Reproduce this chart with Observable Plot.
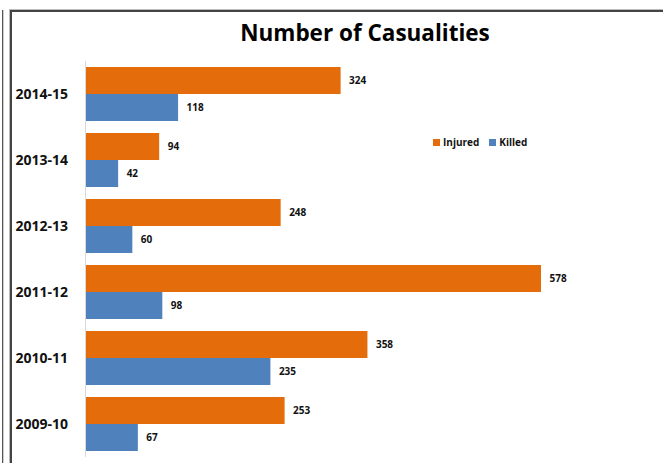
<!DOCTYPE html>
<html>
<head>
<meta charset="utf-8">
<script src="https://cdn.jsdelivr.net/npm/d3@7"></script>
<script src="https://cdn.jsdelivr.net/npm/@observablehq/plot@0.6"></script>
<style>
  html, body { margin: 0; padding: 0; background: #fff; }
  #wrap { position: relative; width: 663px; height: 463px; overflow: hidden; font-family: "Open Sans", "Noto Sans", sans-serif; }
  #edge1 { position: absolute; left: 2px; top: 10px; width: 0; height: 460px; border-left: 1px solid #555; box-shadow: 1px 0 0 #ccc; }
  #edge2 { position: absolute; left: 10px; top: 10px; right: -5px; height: 460px; border-left: 2px solid #444; border-top: 2px solid #444; box-shadow: -1px -1px 0 #bbb; }
  #title { position: absolute; left: 0; width: 730px; top: 17px; text-align: center; font-weight: 700; font-size: 22.5px; color: #000; }
  #legend { position: absolute; left: 433px; top: 135px; font-size: 10px; font-weight: 700; color: #111; display: flex; gap: 10px; }
  #legend span.sw { display: inline-block; width: 7px; height: 7px; margin-right: 3px; }
  #chart { position: absolute; left: 0; top: 0; }
</style>
</head>
<body>
<div id="wrap">
  <div id="edge1"></div>
  <div id="edge2"></div>
  <div id="chart"></div>
  <div id="title">Number of Casualities</div>
  <div id="legend"></div>
</div>
<script>
const years = ["2014-15", "2013-14", "2012-13", "2011-12", "2010-11", "2009-10"];
const series = ["Injured", "Killed"];
const injured = [324, 94, 248, 578, 358, 253];
const killed = [118, 42, 60, 98, 235, 67];
const colors = ["#E46C0A", "#4F81BD"];

const data = [];
years.forEach((y, i) => {
  data.push({year: y, series: "Injured", value: injured[i]});
  data.push({year: y, series: "Killed", value: killed[i]});
});

const chart = Plot.plot({
  width: 663,
  height: 463,
  marginLeft: 85,
  marginRight: 122,
  marginTop: 67,
  marginBottom: 12,
  style: {background: "transparent", fontFamily: "'Open Sans', 'Noto Sans', sans-serif"},
  x: {domain: [0, 578], axis: null},
  y: {domain: series, axis: null, padding: 0},
  fy: {domain: years, padding: 0.185, axis: null, label: null},
  color: {domain: series, range: colors},
  facet: {data, y: "year", label: null},
  marks: [
    Plot.barX(data, {x: "value", y: "series", fill: "series"}),
    Plot.ruleX([0], {stroke: "#d9d9d9", strokeWidth: 1, insetTop: -6, insetBottom: -6}),
    Plot.text(data, {x: "value", y: "series", text: d => String(d.value), dx: 8, textAnchor: "start", fontSize: 10, fontWeight: 700, fill: "#111"}),
    Plot.text(data, Plot.selectFirst({frameAnchor: "left", text: "year", dx: -70, textAnchor: "start", fontSize: 14, fontWeight: 700, fill: "#111"}))
  ]
});
document.getElementById("chart").appendChild(chart);

const legend = document.getElementById("legend");
series.forEach((s, i) => {
  const item = document.createElement("div");
  item.innerHTML = `<span class="sw" style="background:${colors[i]}"></span>${s}`;
  legend.appendChild(item);
});
</script>
</body>
</html>
